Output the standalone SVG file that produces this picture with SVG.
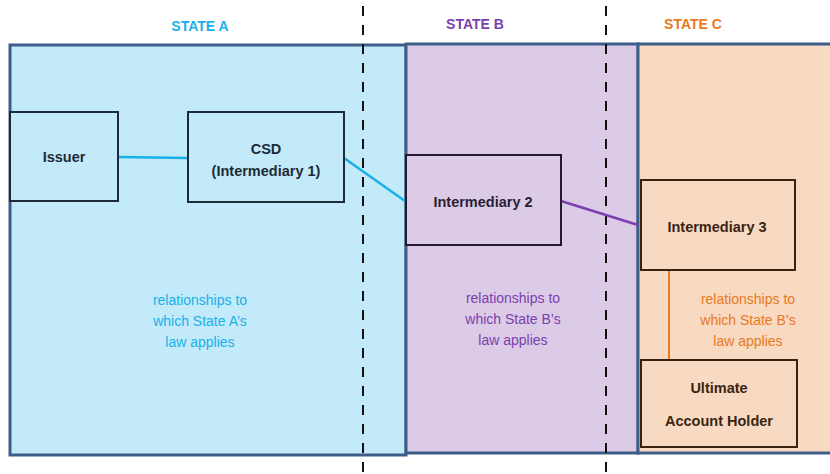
<svg xmlns="http://www.w3.org/2000/svg" width="830" height="474" viewBox="0 0 830 474">
<style>
.state{stroke:#3e5e8a;stroke-width:3}
.node{stroke-width:2}
.nt{font-family:"Liberation Sans",Arial,sans-serif;font-weight:bold;font-size:14.5px;text-anchor:middle}
.hd{font-family:"Liberation Sans",Arial,sans-serif;font-weight:bold;font-size:14px;text-anchor:middle}
.rl{font-family:"Liberation Sans",Arial,sans-serif;font-size:14px;text-anchor:middle}
.dash{stroke:#111;stroke-width:2;stroke-dasharray:10 9;fill:none}
</style>
<rect width="830" height="474" fill="#ffffff"/>
<g id="regions">
<rect id="stateA" class="state" x="10" y="45" width="396" height="410" fill="#c2eaf9"/>
<rect id="stateB" class="state" x="406" y="44" width="232" height="409" fill="#dbcbe6"/>
<rect id="stateC" class="state" x="638" y="44" width="200" height="409" fill="#f8d9c1"/>
</g>
<g id="dividers">
<line class="dash" x1="363" y1="6" x2="363" y2="474"/>
<line class="dash" x1="606" y1="6" x2="606" y2="474"/>
</g>
<g id="headings">
<text class="hd" x="200" y="31" fill="#1ab0e8">STATE A</text>
<text class="hd" x="475" y="29" fill="#7b3fb0">STATE B</text>
<text class="hd" x="693" y="29" fill="#e8791f">STATE C</text>
</g>
<g id="connectors" fill="none" stroke-width="2.5">
<line x1="118" y1="157" x2="188" y2="158" stroke="#1ab0e8"/>
<line x1="344" y1="158" x2="405" y2="201" stroke="#1ab0e8"/>
<line x1="561" y1="201" x2="638" y2="225" stroke="#7b3fb0"/>
<line x1="669" y1="270" x2="669" y2="360" stroke="#e8791f" stroke-width="2"/>
</g>
<g id="issuer">
<rect class="node" x="10" y="112" width="108" height="89" fill="#c2eaf9" stroke="#1c2b36"/>
<text class="nt" x="64" y="162" fill="#1e2a35">Issuer</text>
</g>
<g id="csd">
<rect class="node" x="188" y="112" width="156" height="90" fill="#c2eaf9" stroke="#1c2b36"/>
<text class="nt" x="266" y="154" fill="#1e2a35">CSD</text>
<text class="nt" x="266" y="176" fill="#1e2a35">(Intermediary 1)</text>
</g>
<g id="intermediary2">
<rect class="node" x="406" y="155" width="155" height="90" fill="#dbcbe6" stroke="#231a2e"/>
<text class="nt" x="483" y="207" fill="#2a1f33">Intermediary 2</text>
</g>
<g id="intermediary3">
<rect class="node" x="641" y="180" width="154" height="90" fill="#f8d9c1" stroke="#3a2210"/>
<text class="nt" x="717" y="232" fill="#3a2512">Intermediary 3</text>
</g>
<g id="uah">
<rect class="node" x="641" y="360" width="156" height="87" fill="#f8d9c1" stroke="#3a2210"/>
<text class="nt" x="719" y="393" fill="#3a2512">Ultimate</text>
<text class="nt" x="719" y="426" fill="#3a2512">Account Holder</text>
</g>
<g id="labels">
<text class="rl" x="200" y="305" fill="#1ab0e8">relationships to</text>
<text class="rl" x="200" y="326" fill="#1ab0e8">which State A’s</text>
<text class="rl" x="200" y="347" fill="#1ab0e8">law applies</text>
<text class="rl" x="513" y="303" fill="#7b3fb0">relationships to</text>
<text class="rl" x="513" y="324" fill="#7b3fb0">which State B’s</text>
<text class="rl" x="513" y="345" fill="#7b3fb0">law applies</text>
<text class="rl" x="748" y="304" fill="#e8791f">relationships to</text>
<text class="rl" x="748" y="325" fill="#e8791f">which State B’s</text>
<text class="rl" x="748" y="346" fill="#e8791f">law applies</text>
</g>
</svg>
